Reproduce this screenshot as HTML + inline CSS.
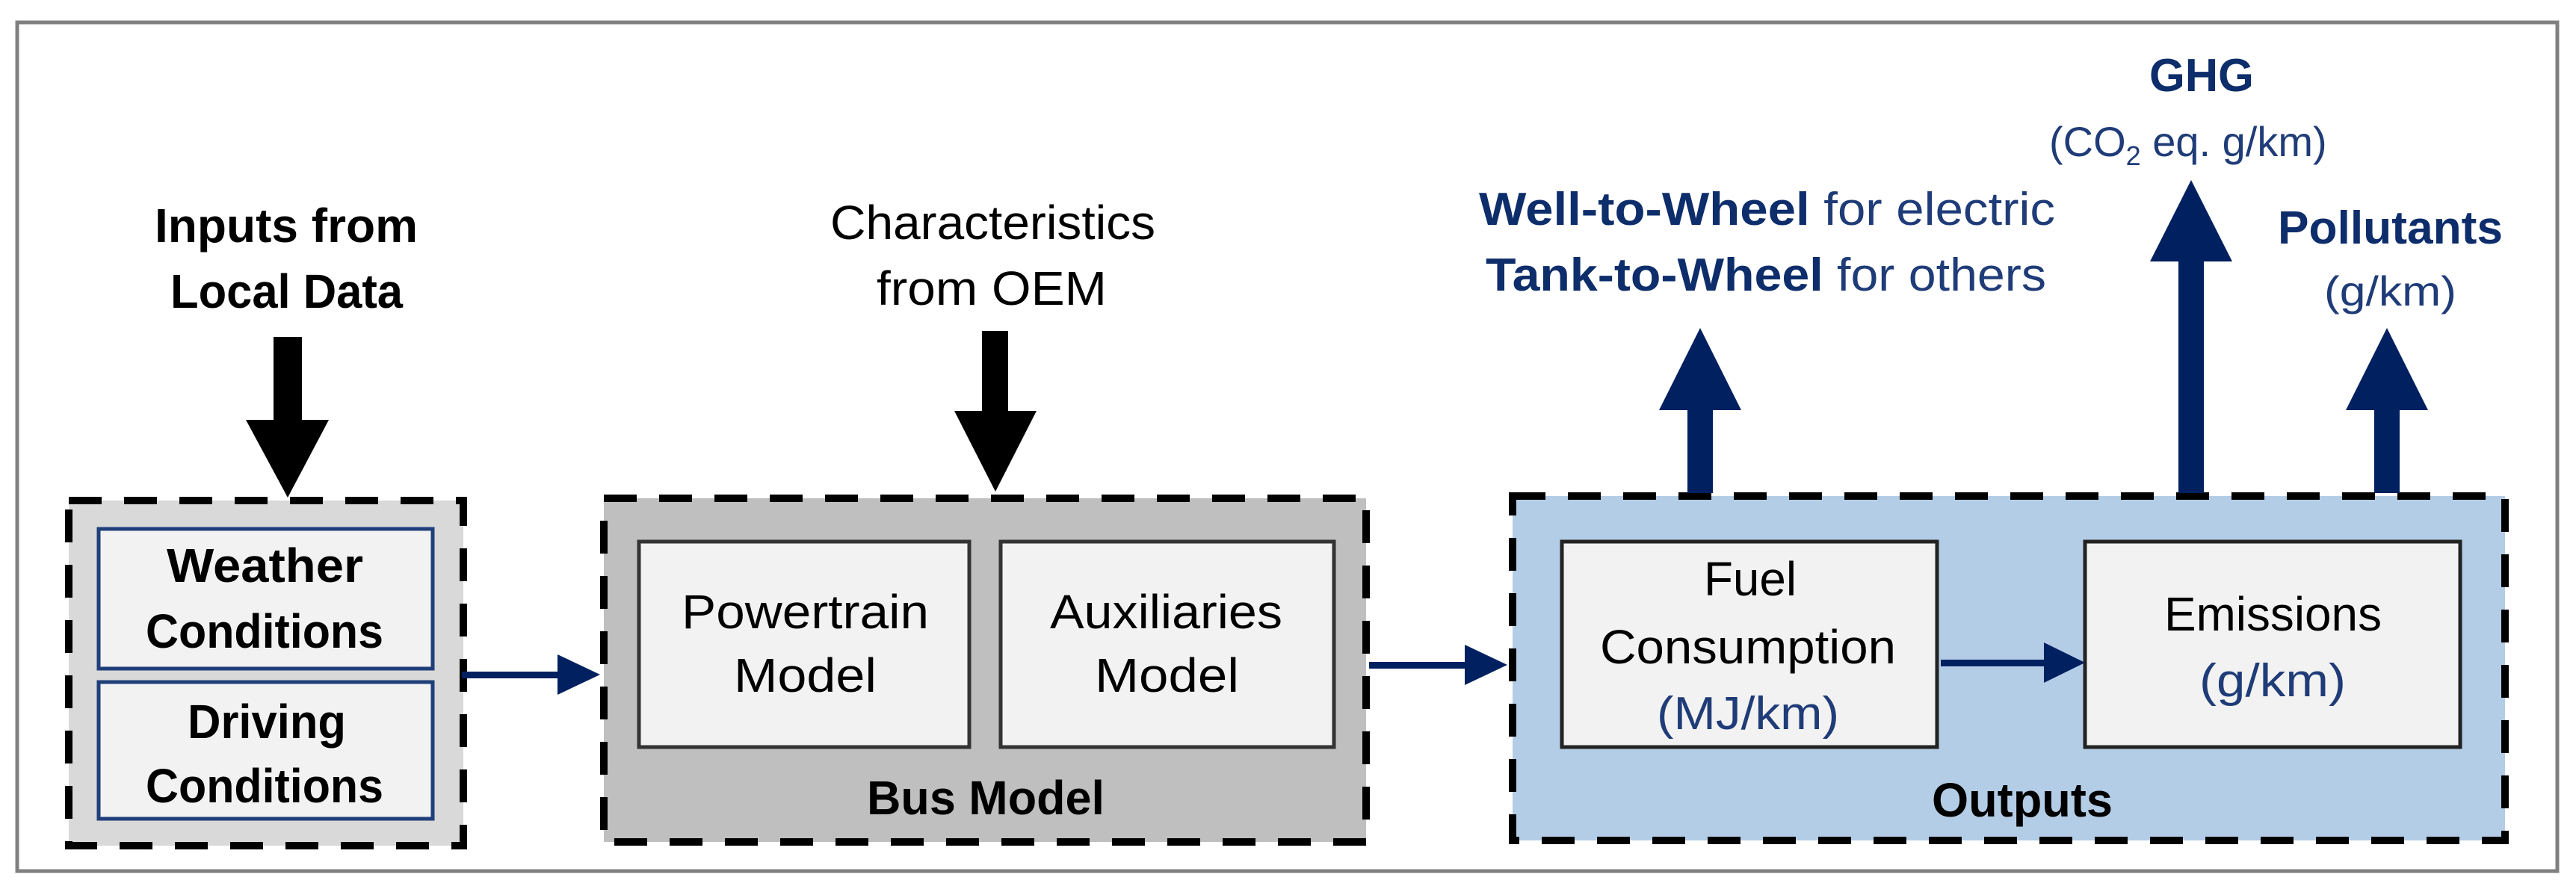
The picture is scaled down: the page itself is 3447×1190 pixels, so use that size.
<!DOCTYPE html>
<html><head><meta charset="utf-8"><style>
html,body{margin:0;padding:0;background:#fff;}
svg{display:block;}
text{font-family:"Liberation Sans",Arial,sans-serif;}
</style></head><body>
<svg width="3447" height="1190" viewBox="0 0 3447 1190" xmlns="http://www.w3.org/2000/svg">
<rect x="23" y="30" width="3399" height="1136" fill="#fff" stroke="#808080" stroke-width="5"/>

<rect x="92" y="670" width="528" height="462" fill="#d9d9d9" stroke="#000" stroke-width="10" stroke-dasharray="44 30"/>
<rect x="808" y="667" width="1020" height="460" fill="#bfbfbf" stroke="#000" stroke-width="10" stroke-dasharray="44 30"/>
<rect x="2024" y="664" width="1328" height="461" fill="#b4cde6" stroke="#000" stroke-width="10" stroke-dasharray="44 30"/>

<rect x="132" y="708" width="447" height="187" fill="#f2f2f2" stroke="#1f3f7a" stroke-width="5"/>
<rect x="132" y="913" width="447" height="183" fill="#f2f2f2" stroke="#1f3f7a" stroke-width="5"/>
<rect x="855" y="725" width="442" height="275" fill="#f2f2f2" stroke="#333" stroke-width="5"/>
<rect x="1339" y="725" width="446" height="275" fill="#f2f2f2" stroke="#333" stroke-width="5"/>
<rect x="2090" y="725" width="502" height="275" fill="#f2f2f2" stroke="#222" stroke-width="5"/>
<rect x="2790" y="725" width="502" height="275" fill="#f2f2f2" stroke="#222" stroke-width="5"/>

<polygon points="366,451 404,451 404,562 440,562 385,666 329,562 366,562" fill="#000"/>
<polygon points="1314,443 1349,443 1349,550 1387,550 1332,658 1277,550 1314,550" fill="#000"/>

<rect x="618" y="899" width="130" height="9" fill="#002060"/>
<polygon points="746,876 803,903 746,930" fill="#002060"/>
<rect x="1832" y="886" width="130" height="9" fill="#002060"/>
<polygon points="1960,863 2017,890 1960,917" fill="#002060"/>
<rect x="2597" y="883" width="140" height="9" fill="#002060"/>
<polygon points="2735,860 2790,887 2735,914" fill="#002060"/>

<polygon points="2258,660 2292,660 2292,549 2330,549 2275,439 2220,549 2258,549" fill="#002060"/>
<polygon points="2915,660 2949,660 2949,350 2987,350 2932,241 2877,350 2915,350" fill="#002060"/>
<polygon points="3177,660 3211,660 3211,549 3249,549 3194,439 3139,549 3177,549" fill="#002060"/>

<g fill="#000" font-size="64">
<text x="207" y="324" textLength="352" lengthAdjust="spacingAndGlyphs" font-weight="bold">Inputs from</text>
<text x="228" y="412" textLength="311" lengthAdjust="spacingAndGlyphs" font-weight="bold">Local Data</text>
<text x="1111" y="320" textLength="435" lengthAdjust="spacingAndGlyphs">Characteristics</text>
<text x="1173" y="408" textLength="308" lengthAdjust="spacingAndGlyphs">from OEM</text>
<text x="223" y="779" textLength="263" lengthAdjust="spacingAndGlyphs" font-weight="bold">Weather</text>
<text x="195" y="867" textLength="318" lengthAdjust="spacingAndGlyphs" font-weight="bold">Conditions</text>
<text x="251" y="988" textLength="212" lengthAdjust="spacingAndGlyphs" font-weight="bold">Driving</text>
<text x="195" y="1074" textLength="318" lengthAdjust="spacingAndGlyphs" font-weight="bold">Conditions</text>
<text x="912" y="841" textLength="331" lengthAdjust="spacingAndGlyphs">Powertrain</text>
<text x="982" y="926" textLength="191" lengthAdjust="spacingAndGlyphs">Model</text>
<text x="1405" y="841" textLength="311" lengthAdjust="spacingAndGlyphs">Auxiliaries</text>
<text x="1465" y="926" textLength="193" lengthAdjust="spacingAndGlyphs">Model</text>
<text x="1160" y="1090" textLength="318" lengthAdjust="spacingAndGlyphs" font-weight="bold">Bus Model</text>
<text x="2280" y="797" textLength="124" lengthAdjust="spacingAndGlyphs">Fuel</text>
<text x="2141" y="888" textLength="396" lengthAdjust="spacingAndGlyphs">Consumption</text>
<text x="2896" y="844" textLength="291" lengthAdjust="spacingAndGlyphs">Emissions</text>
<text x="2585" y="1093" textLength="242" lengthAdjust="spacingAndGlyphs" font-weight="bold">Outputs</text>
</g>

<g fill="#1f3c78" font-size="62">
<text x="2217" y="976" textLength="244" lengthAdjust="spacingAndGlyphs">(MJ/km)</text>
<text x="2943" y="932" textLength="196" lengthAdjust="spacingAndGlyphs">(g/km)</text>
<text x="1979" y="301" textLength="771" lengthAdjust="spacingAndGlyphs"><tspan font-weight="bold" fill="#0d2d6b">Well-to-Wheel</tspan> for electric</text>
<text x="1988" y="389" textLength="750" lengthAdjust="spacingAndGlyphs"><tspan font-weight="bold" fill="#0d2d6b">Tank-to-Wheel</tspan> for others</text>
<text x="3048" y="326" textLength="301" lengthAdjust="spacingAndGlyphs" font-weight="bold" fill="#0d2d6b">Pollutants</text>
<text x="3110" y="409" textLength="177" lengthAdjust="spacingAndGlyphs" font-size="56">(g/km)</text>
<text x="2876" y="122" textLength="140" lengthAdjust="spacingAndGlyphs" font-weight="bold" fill="#0d2d6b">GHG</text>
<text x="2742" y="209" font-size="56">(CO<tspan font-size="36" dy="12">2</tspan><tspan dy="-12"> eq. g/km)</tspan></text>
</g>
</svg>
</body></html>
